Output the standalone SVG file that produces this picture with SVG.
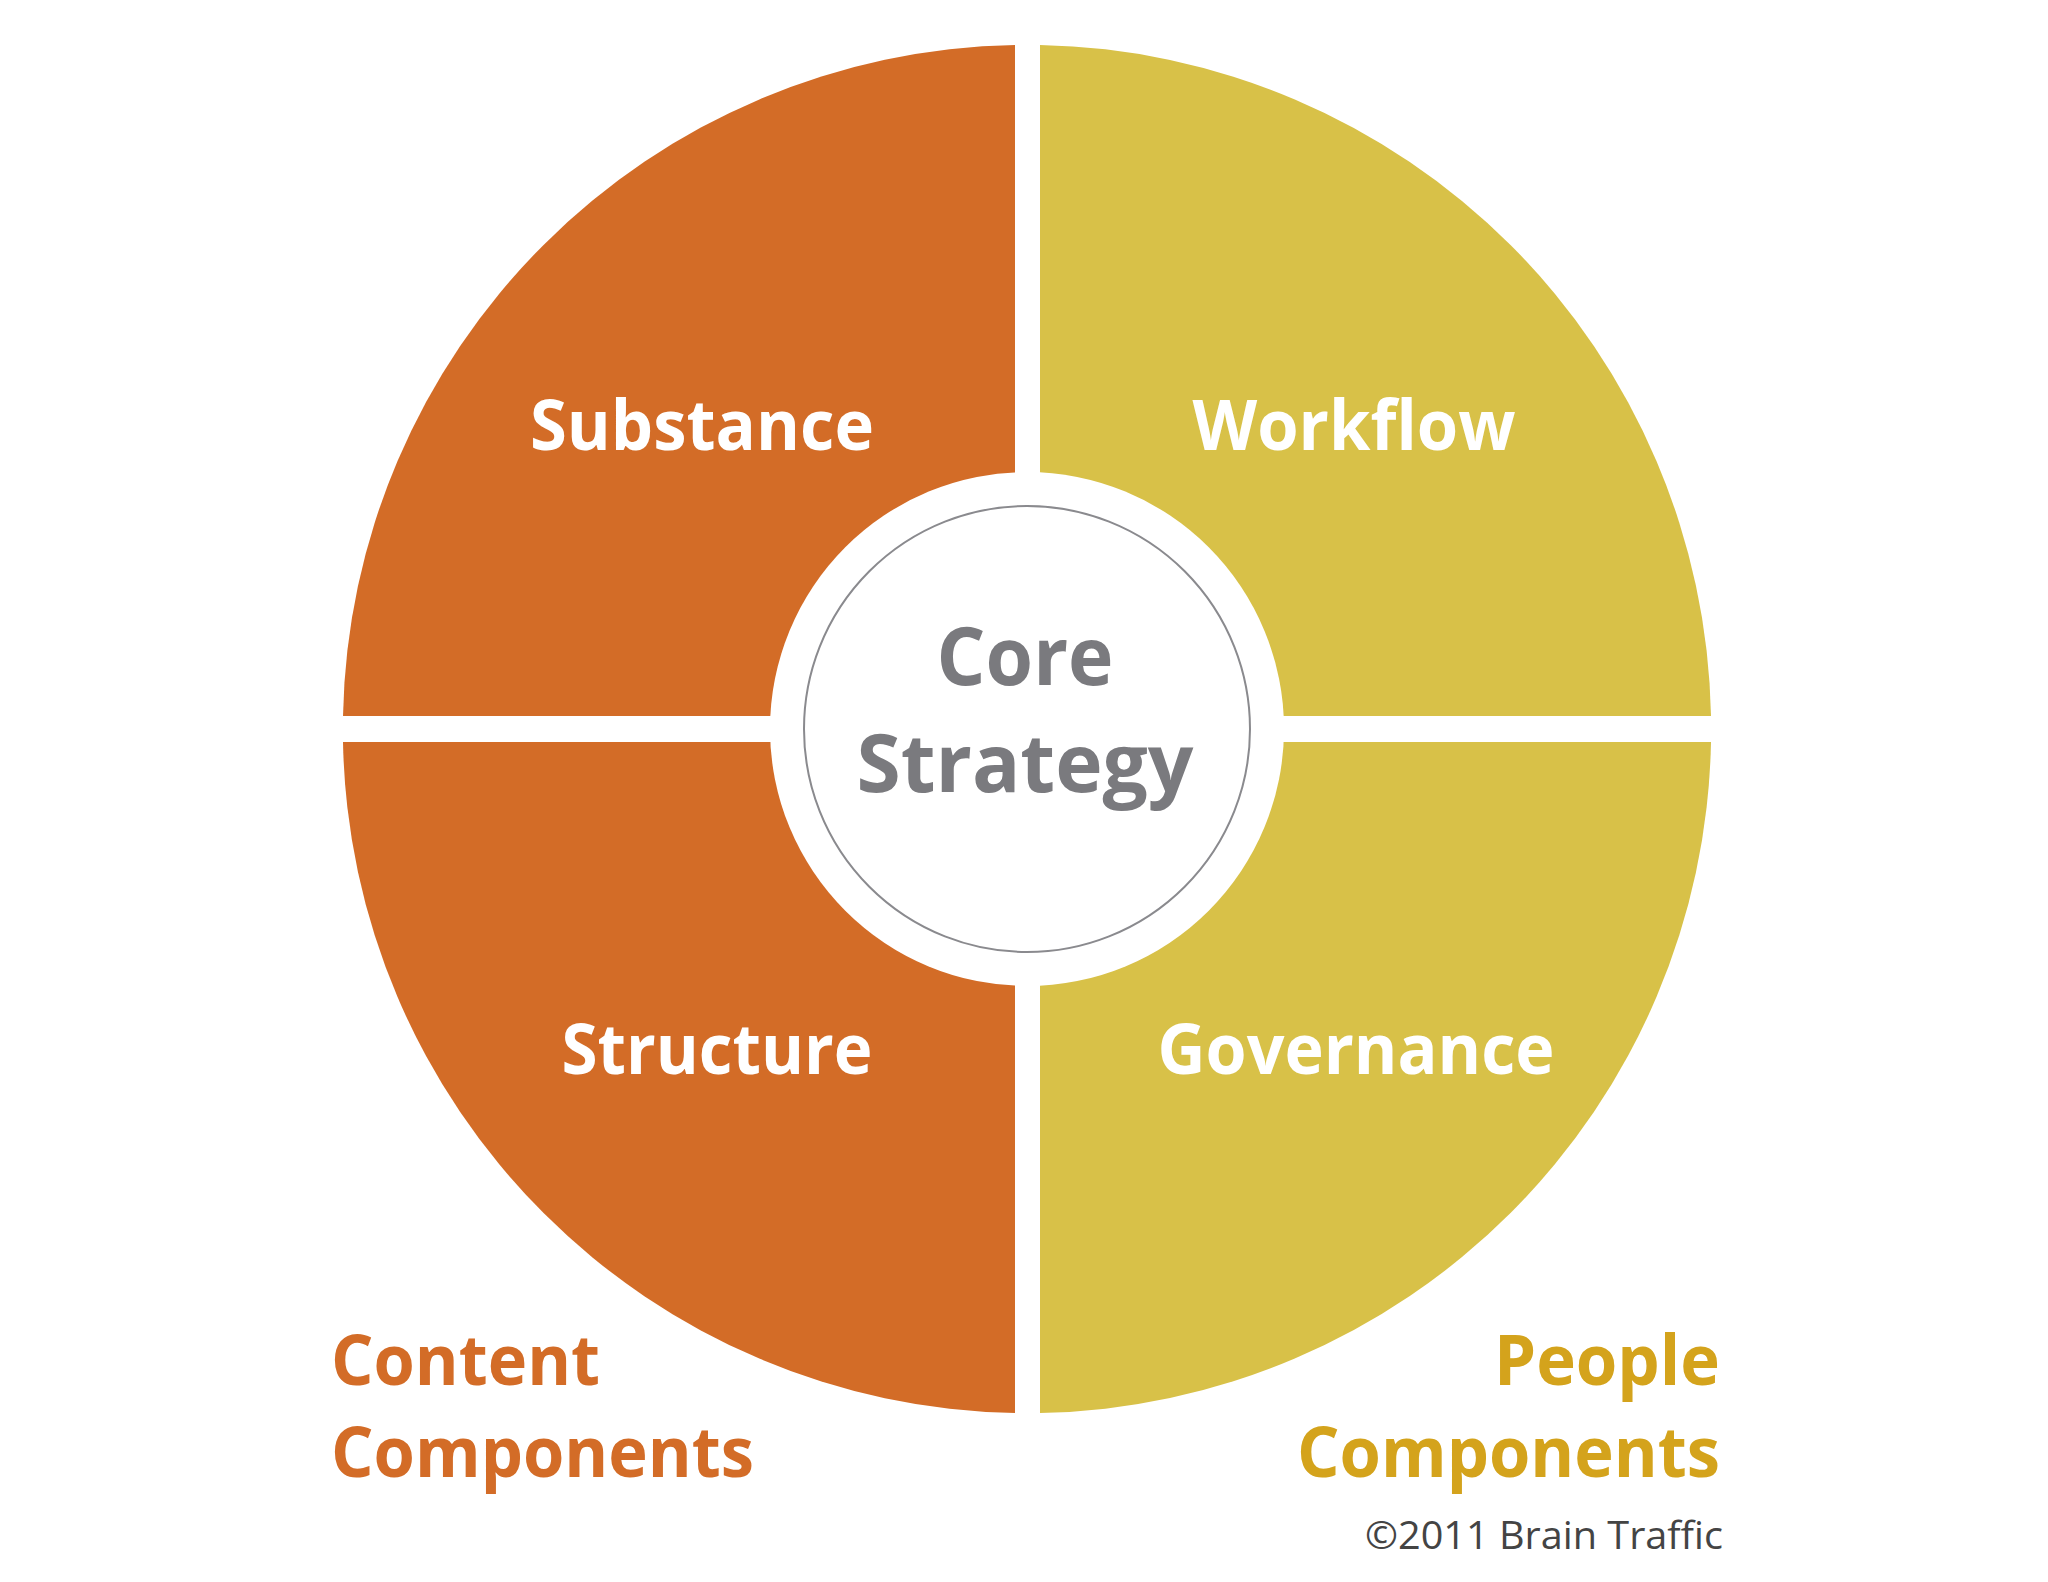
<svg xmlns="http://www.w3.org/2000/svg" width="2048" height="1582" viewBox="0 0 2048 1582">
<style>
.w{font-family:"Open Sans","Liberation Sans",sans-serif;font-weight:bold;fill:#fff;font-size:70px;text-anchor:middle}
.c{font-family:"Open Sans","Liberation Sans",sans-serif;font-weight:bold;fill:#7a7a7e;font-size:80px;text-anchor:middle}
.l{font-family:"Open Sans","Liberation Sans",sans-serif;font-weight:bold;font-size:70px}
</style>
<rect width="2048" height="1582" fill="#fff"/>
<g id="quadrants">
<path d="M1015,716 H343 A684,684 0 0 1 1015,45 Z" fill="#D36C27"/>
<path d="M1015,742 H343 A684,684 0 0 0 1015,1413 Z" fill="#D36C27"/>
<path d="M1040,716 H1711 A684,684 0 0 0 1040,45 Z" fill="#D8C148"/>
<path d="M1040,742 H1711 A684,684 0 0 1 1040,1413 Z" fill="#D8C148"/>
</g>
<g id="core">
<circle cx="1027" cy="729" r="257" fill="#fff"/>
<circle cx="1027" cy="729" r="223" fill="#fff" stroke="#8a8a8e" stroke-width="2"/>
<text class="c" x="1025" y="685" textLength="177" lengthAdjust="spacingAndGlyphs">Core</text>
<text class="c" x="1025" y="792" textLength="337" lengthAdjust="spacingAndGlyphs">Strategy</text>
</g>
<g id="labels">
<text class="w" x="702" y="450" textLength="344" lengthAdjust="spacingAndGlyphs">Substance</text>
<text class="w" x="1354" y="450" textLength="323" lengthAdjust="spacingAndGlyphs">Workflow</text>
<text class="w" x="717" y="1074" textLength="311" lengthAdjust="spacingAndGlyphs">Structure</text>
<text class="w" x="1356" y="1074" textLength="397" lengthAdjust="spacingAndGlyphs">Governance</text>
</g>
<g id="legend">
<text class="l" fill="#D36C27" x="331" y="1385" textLength="269" lengthAdjust="spacingAndGlyphs">Content</text>
<text class="l" fill="#D36C27" x="331" y="1477" textLength="423" lengthAdjust="spacingAndGlyphs">Components</text>
<text class="l" fill="#D4A31C" x="1720" y="1385" text-anchor="end" textLength="226" lengthAdjust="spacingAndGlyphs">People</text>
<text class="l" fill="#D4A31C" x="1720" y="1477" text-anchor="end" textLength="423" lengthAdjust="spacingAndGlyphs">Components</text>
<text x="1723" y="1549" text-anchor="end" font-family="Open Sans, Liberation Sans, sans-serif" font-size="38" fill="#444" textLength="358" lengthAdjust="spacingAndGlyphs">©2011 Brain Traffic</text>
</g>
</svg>
